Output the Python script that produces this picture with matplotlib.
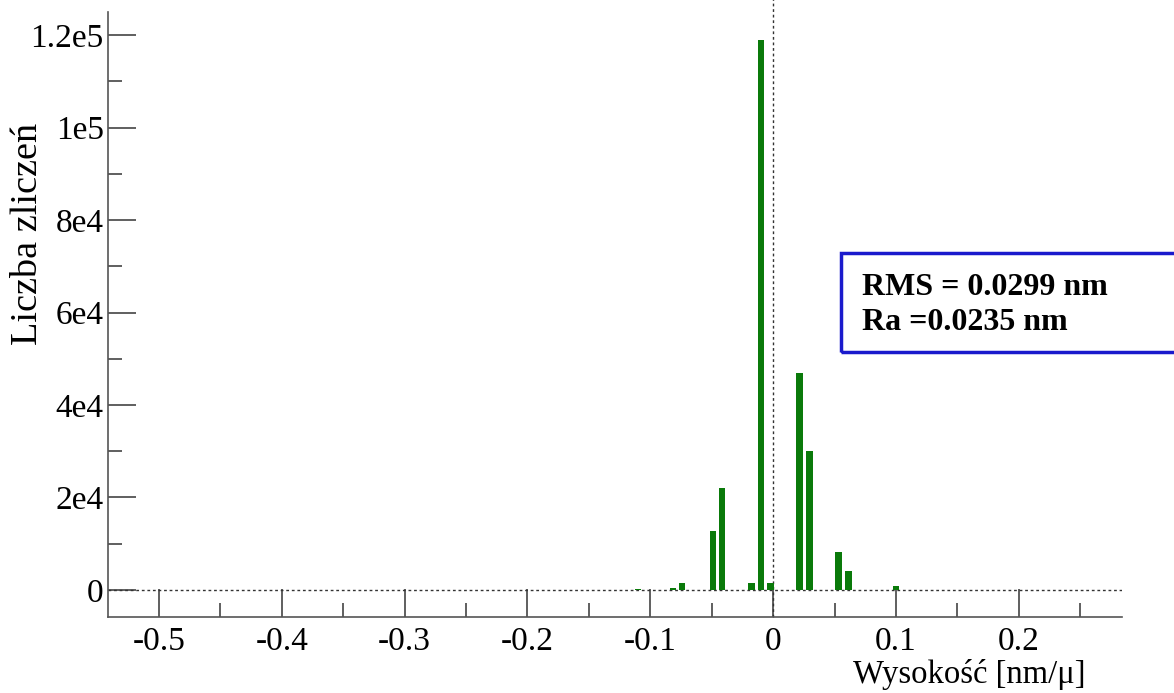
import matplotlib
matplotlib.use("Agg")
import matplotlib.pyplot as plt
from matplotlib.patches import Rectangle
from matplotlib.ticker import FixedLocator, FixedFormatter

# dane histogramu
bin_centers = [-0.110, -0.0813, -0.074, -0.0492, -0.0415, -0.0175, -0.0098,
               -0.002, 0.0215, 0.0297, 0.0533, 0.0614, 0.100]
counts = [200, 500, 1500, 12750, 22100, 1450, 118900,
          1450, 47000, 30100, 8200, 4100, 800]

x_ticks = [-0.5, -0.4, -0.3, -0.2, -0.1, 0, 0.1, 0.2]
x_labels = ["-0.5", "-0.4", "-0.3", "-0.2", "-0.1", "0", "0.1", "0.2"]
y_ticks = [0, 20000, 40000, 60000, 80000, 100000, 120000]
y_labels = ["0", "2e4", "4e4", "6e4", "8e4", "1e5", "1.2e5"]

stats_text = "RMS = 0.0299 nm\nRa =0.0235 nm"

plt.rcParams["font.family"] = ["Liberation Serif", "DejaVu Serif"]

fig = plt.figure(figsize=(11.74, 6.93), dpi=100)
ax = fig.add_axes([0.092, 0.1097, 0.8637, 0.873])

ax.bar(bin_centers, counts, width=0.0052, color="#0a7a0a", zorder=3)

ax.axhline(0, color="#333333", linestyle=(0, (2, 2)), linewidth=1.0, zorder=2)
ax.axvline(0, color="#333333", linestyle=(0, (2, 2)), linewidth=1.0, zorder=2,
           ymin=0, ymax=1.05, clip_on=False)

ax.set_xlim(-0.5415, 0.284)
ax.set_ylim(-5840, 125000)

ax.xaxis.set_major_locator(FixedLocator(x_ticks))
ax.xaxis.set_major_formatter(FixedFormatter(x_labels))
ax.xaxis.set_minor_locator(FixedLocator([v + 0.05 for v in x_ticks]))
ax.yaxis.set_major_locator(FixedLocator(y_ticks))
ax.yaxis.set_major_formatter(FixedFormatter(y_labels))
ax.yaxis.set_minor_locator(FixedLocator([v + 10000 for v in y_ticks[:-1]]))

ax.tick_params(which="major", direction="in", length=20, width=1.2,
               color="#444444", labelsize=24)
ax.tick_params(axis="x", which="major", pad=7)
ax.tick_params(axis="y", which="major", pad=3)
ax.tick_params(which="minor", direction="in", length=10, width=1.2,
               color="#444444")

for side in ["top", "right"]:
    ax.spines[side].set_visible(False)
for side in ["left", "bottom"]:
    ax.spines[side].set_color("#555555")
    ax.spines[side].set_linewidth(1.2)

fig.text(0.024, 0.663, "Liczba zliczeń", rotation=90, fontsize=27.5,
         ha="center", va="center")
fig.text(0.826, 0.027, "Wysokość [nm/μ]", fontsize=23.5, ha="center", va="center")

# ramka ze statystykami
fig.patches.append(Rectangle((0.716, 0.492), 0.3, 0.143, transform=fig.transFigure,
                             fill=False, edgecolor="#1a1acc", linewidth=2.5))
fig.text(0.734, 0.560, stats_text, fontsize=23, fontweight="bold",
         ha="left", va="center", linespacing=1.25)

fig.savefig("out.png", dpi=100)
